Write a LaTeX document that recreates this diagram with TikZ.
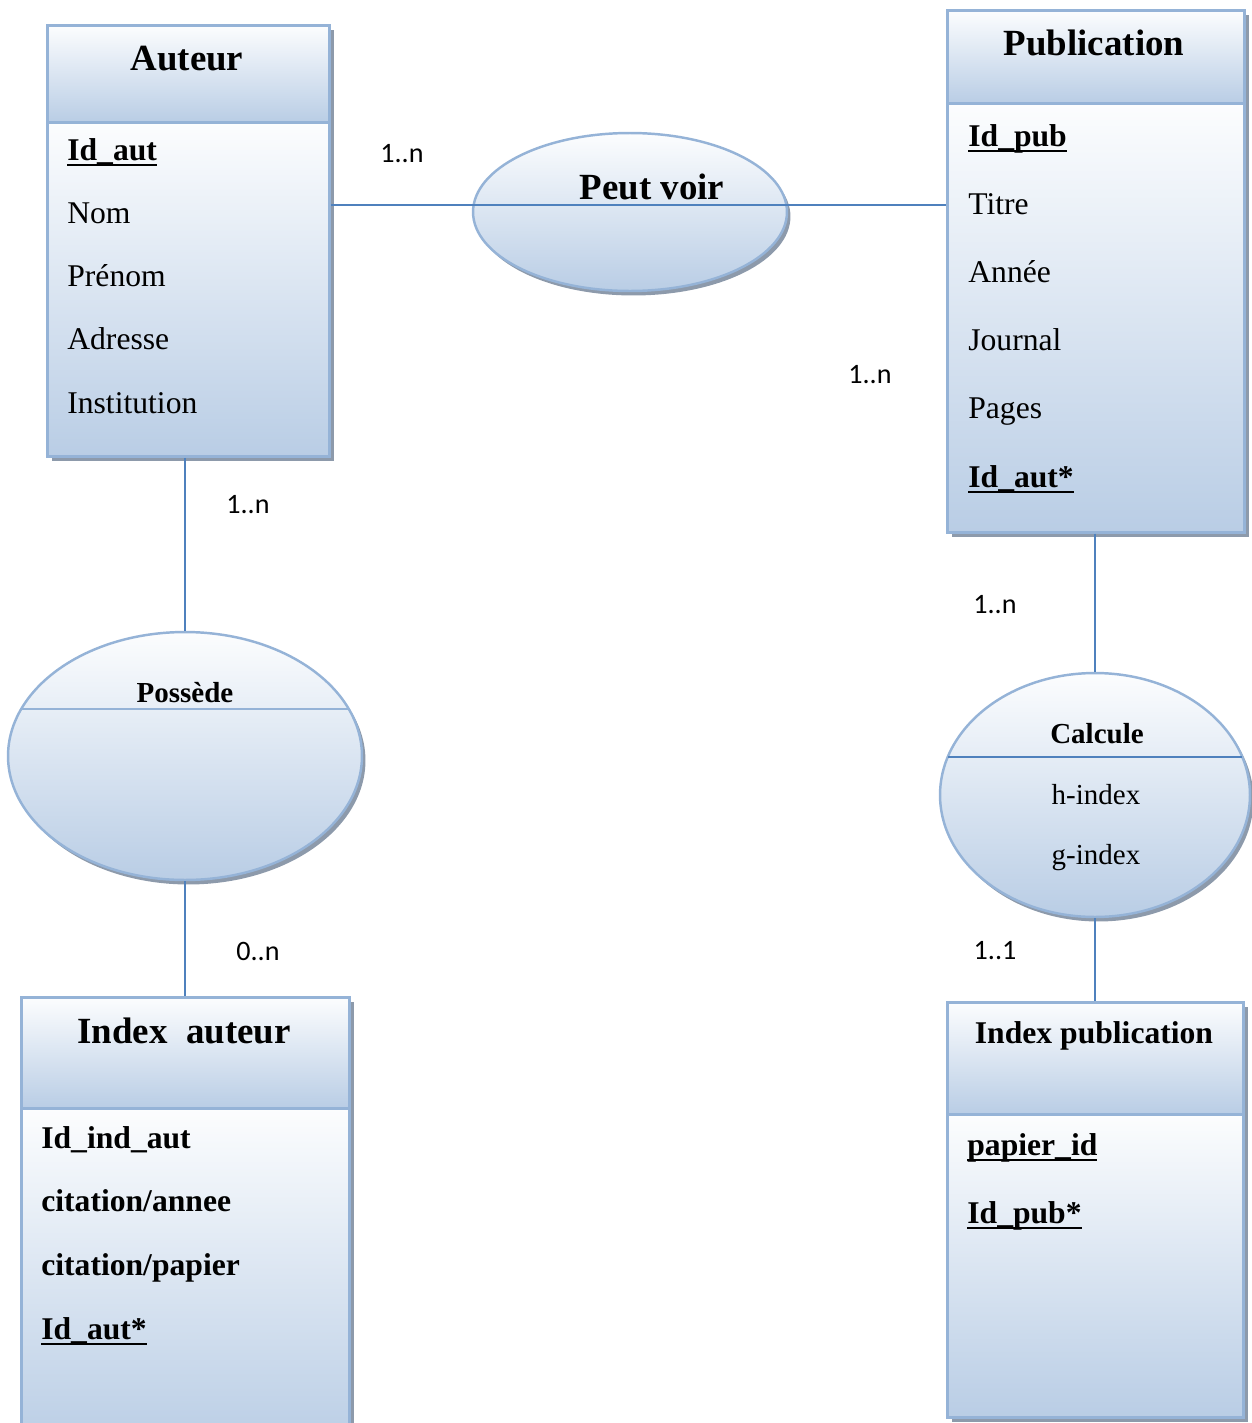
\documentclass[tikz,border=0pt]{standalone}
\usepackage{fontspec}
\setmainfont{Liberation Serif}
\newfontfamily\cardfont{Carlito}
\usetikzlibrary{shapes.geometric}
\usetikzlibrary{shadows}
\usepackage{color}

\definecolor{boxline}{HTML}{95B3D7}
\definecolor{linkline}{HTML}{4F81BD}
\definecolor{boxtop}{HTML}{FCFDFE}
\definecolor{boxbot}{HTML}{B9CDE5}
\definecolor{shadowgray}{HTML}{8D9AAB}

% primary keys: bold, underlined
\newcommand{\idkey}[1]{\setbox0\hbox{\textbf{#1}}\rlap{\rule[-3.4pt]{\wd0}{1.3pt}}\box0}

\begin{document}
\begin{tikzpicture}[x=0.02cm,y=-0.02cm,
	head/.style={draw=boxline,line width=1.6pt,top color=boxtop,bottom color=boxbot,anchor=north west,inner sep=0pt,
		drop shadow={shadow xshift=0.09cm,shadow yshift=-0.09cm,fill=shadowgray,opacity=1}},
	body/.style={head},
	ell/.style={ellipse,draw=boxline,line width=1.4pt,top color=boxtop,bottom color=boxbot,inner sep=0pt,
		drop shadow={shadow xshift=0.07cm,shadow yshift=-0.09cm,fill=shadowgray,opacity=1}},
	title/.style={anchor=base,inner sep=0pt,font=\fontsize{21}{25}\selectfont\bfseries},
	reltitle/.style={anchor=base,inner sep=0pt,font=\fontsize{16.5}{20}\selectfont\bfseries},
	attr/.style={anchor=base west,inner sep=0pt,font=\fontsize{18}{22}\selectfont},
	card/.style={inner sep=0pt,font=\cardfont\fontsize{16}{19}\selectfont},
	link/.style={draw=linkline,line width=1.2pt}]
	\useasboundingbox (0,0) rectangle (1251,1423);

	% entities
	\node[head,minimum width=5.64cm,minimum height=1.94cm] (autHead) at (46,24) {};
	\node[body,minimum width=5.64cm,minimum height=6.68cm] (autBody) at (46,121) {};
	\node[head,minimum width=5.94cm,minimum height=1.86cm] (pubHead) at (946,9) {};
	\node[body,minimum width=5.94cm,minimum height=8.58cm] (pubBody) at (946,102) {};
	\node[head,minimum width=6.56cm,minimum height=2.22cm] (iaHead) at (20,996) {};
	\node[body,minimum width=6.56cm,minimum height=6.80cm] (iaBody) at (20,1107) {};
	\node[head,minimum width=5.92cm,minimum height=2.24cm] (ipHead) at (946,1001) {};
	\node[body,minimum width=5.92cm,minimum height=6.06cm] (ipBody) at (946,1113) {};

	\node[title] (autTitle) at (187,70) {Auteur};
	\node[title] (pubTitle) at (1094,55) {Publication};
	\node[title] (iaTitle) at (184,1043) {Index\ \ auteur};
	\node[title,font=\fontsize{18}{22}\selectfont\bfseries] (ipTitle) at (1094,1043) {Index publication};

	\foreach \txt [count=\i from 0] in {\idkey{Id\_aut},Nom,Prénom,Adresse,Institution}
		\node[attr] (aut-\i) at (67,160+63.3*\i) {\txt};
	\foreach \txt [count=\i from 0] in {\idkey{Id\_pub},Titre,Année,Journal,Pages,\idkey{Id\_aut*}}
		\node[attr] (pub-\i) at (968,146+68.2*\i) {\txt};
	\foreach \txt [count=\i from 0] in {\textbf{Id\_ind\_aut},\textbf{citation/annee},\textbf{citation/papier},\idkey{Id\_aut*}}
		\node[attr] (ia-\i) at (41,1148+63.7*\i) {\txt};
	\foreach \txt [count=\i from 0] in {\idkey{papier\_id},\idkey{Id\_pub*}}
		\node[attr] (ip-\i) at (967,1155+68*\i) {\txt};

	% relations
	\node[ell,minimum width=6.28cm,minimum height=3.16cm] (pvEll) at (630,212) {};
	\node[ell,minimum width=7.08cm,minimum height=4.96cm] (posEll) at (185,756) {};
	\node[ell,minimum width=6.20cm,minimum height=4.88cm] (calcEll) at (1095,795) {};
	\draw[boxline,line width=1.4pt] (posEll.center) ++(-164,-47) -- ++(328,0);
	\draw[linkline,line width=1.4pt] (calcEll.center) ++(-147,-38) -- ++(294,0);

	\coordinate (pvLine) at (630,205);
	\draw[link] (autBody.east |- pvLine) -- (pubBody.west |- pvLine);
	\draw[link] (autBody.south -| posEll.north) -- (posEll.north);
	\draw[link] (posEll.south) -- (iaHead.north -| posEll.south);
	\draw[link] (pubBody.south -| calcEll.north) -- (calcEll.north);
	\draw[link] (calcEll.south) -- (ipHead.north -| calcEll.south);

	\node[title] (pvText) at (652,199) {Peut voir};
	\node[reltitle] (posText) at (185,702) {Possède};
	\node[reltitle] (calcText) at (1097,743) {Calcule};
	\node[attr,anchor=base,font=\fontsize{16.5}{20}\selectfont] (hIdx) at (1096,804) {h-index};
	\node[attr,anchor=base,font=\fontsize{16.5}{20}\selectfont] (gIdx) at (1096,864) {g-index};

	% cardinalities
	\node[card] (c1) at (402,154) {1..n};
	\node[card] (c2) at (870,375) {1..n};
	\node[card] (c3) at (248,505) {1..n};
	\node[card] (c4) at (258,951) {0..n};
	\node[card] (c5) at (995,605) {1..n};
	\node[card] (c6) at (995,951) {1..1};
\end{tikzpicture}
\end{document}
